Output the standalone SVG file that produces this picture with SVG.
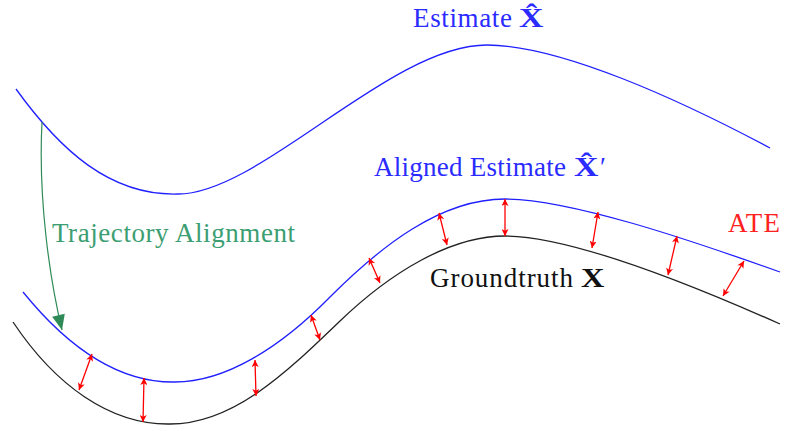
<svg xmlns="http://www.w3.org/2000/svg" width="785" height="431" viewBox="0 0 785 431">
<style>
.t{font-family:"Liberation Serif","DejaVu Serif",serif;font-size:27px}
.b{font-weight:bold}
.blue{fill:#2b2bff}
.curve{fill:none;stroke-width:1.3}
.err{stroke:#ff0000;stroke-width:1.3;fill:none;marker-start:url(#ah);marker-end:url(#ah)}
</style>
<defs>
<marker id="ah" viewBox="0 0 10 10" refX="10" refY="5" markerWidth="8" markerHeight="7" markerUnits="userSpaceOnUse" orient="auto-start-reverse">
<path d="M0,0 L10,5 L0,10 L2.5,5 z" fill="#ff0000"/>
</marker>
<marker id="gh" viewBox="0 0 14 12" refX="14" refY="6" markerWidth="16" markerHeight="13" markerUnits="userSpaceOnUse" orient="auto">
<path d="M0,0 L14,6 L0,12 z" fill="#2e8b57"/>
</marker>
</defs>

<g id="estimate">
<path class="curve" stroke="#2020ff" d="M16,89 C60,150 110,196 178,194 C260,194 390,45 487,45 C560,45 680,100 770,148"/>
<text class="t blue" x="413" y="27" textLength="99">Estimate</text>
<text class="t b blue" transform="translate(519,27) scale(1.25,1)">X&#x302;</text>
</g>

<g id="aligned">
<path class="curve" stroke="#2020ff" d="M23,292 C70,350 120,383 175,382 C225,382 280,348 330,297 C380,247 440,199 505,199 C570,199 690,240 780,272"/>
<text class="t blue" x="374" y="176" textLength="192">Aligned Estimate</text>
<text class="t b blue" transform="translate(574,176) scale(1.25,1)">X&#x302;</text>
<text class="t blue" x="600" y="176">′</text>
</g>

<g id="groundtruth">
<path class="curve" stroke="#222222" d="M13,322 C55,385 110,425 170,424 C235,424 290,369 340,321 C390,273 450,236 505,236 C570,236 690,284 780,324"/>
<text class="t" x="430" y="287" textLength="143" fill="#111">Groundtruth</text>
<text class="t b" transform="translate(581,287) scale(1.2,1)" fill="#111">X</text>
</g>

<g id="ate-label">
<text class="t" x="728" y="232" textLength="52" fill="#ff2020">ATE</text>
</g>

<g id="alignment-label">
<text class="t" x="52" y="242" textLength="243" fill="#3c9e72">Trajectory Alignment</text>
</g>

<g id="connectors">
<path d="M42,122 C38,200 50,280 62,330" fill="none" stroke="#2e8b57" stroke-width="1.2" marker-end="url(#gh)"/>
<line class="err" x1="92" y1="354" x2="79" y2="390"/>
<line class="err" x1="144" y1="378" x2="143" y2="422"/>
<line class="err" x1="255" y1="360" x2="256" y2="396"/>
<line class="err" x1="311" y1="315" x2="320" y2="340"/>
<line class="err" x1="369" y1="258" x2="380" y2="283"/>
<line class="err" x1="439" y1="213" x2="447" y2="245"/>
<line class="err" x1="505" y1="199" x2="505" y2="236"/>
<line class="err" x1="598" y1="212" x2="592" y2="248"/>
<line class="err" x1="677" y1="236" x2="668" y2="275"/>
<line class="err" x1="744" y1="261" x2="723" y2="296"/>
</g>
</svg>
